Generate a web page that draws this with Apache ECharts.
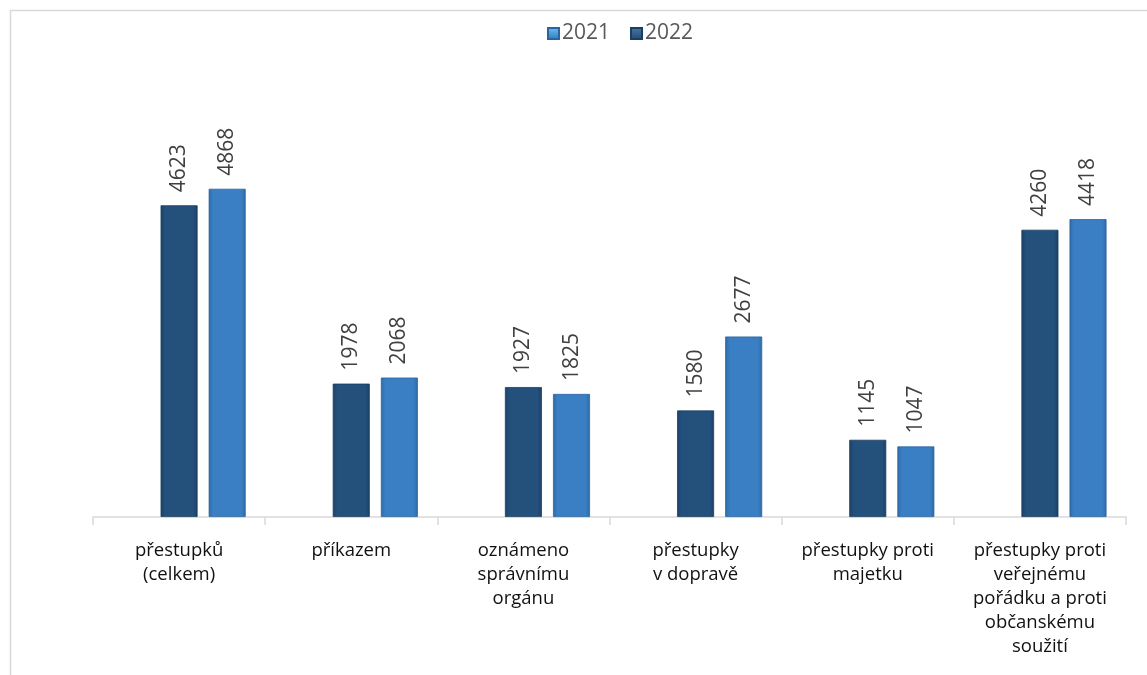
<!DOCTYPE html>
<html>
<head>
<meta charset="utf-8">
<script src="https://cdn.jsdelivr.net/npm/echarts@6/dist/echarts.min.js"></script>
<style>
html,body{margin:0;padding:0;background:#fff;}
#c{width:1147px;height:675px;}
</style>
</head>
<body>
<div id="c"></div>
<script>
const categories = [
  'přestupků\n(celkem)',
  'příkazem',
  'oznámeno\nsprávnímu\norgánu',
  'přestupky\nv dopravě',
  'přestupky proti\nmajetku',
  'přestupky proti\nveřejnému\npořádku a proti\nobčanskému\nsoužití'
];
const seriesNames = ['2021', '2022'];
const values2022 = [4623, 1978, 1927, 1580, 1145, 4260];
const values2021 = [4868, 2068, 1825, 2677, 1047, 4418];

const darkGrad = {type:'linear',x:0,y:0,x2:1,y2:0,colorStops:[
  {offset:0,color:'#1b4168'},{offset:0.12,color:'#24507c'},{offset:0.88,color:'#24507c'},{offset:1,color:'#1b4168'}]};
const lightGrad = {type:'linear',x:0,y:0,x2:1,y2:0,colorStops:[
  {offset:0,color:'#2f6aa6'},{offset:0.12,color:'#3a7fc3'},{offset:0.88,color:'#3a7fc3'},{offset:1,color:'#2f6aa6'}]};
const darkIcon = {type:'linear',x:0,y:0,x2:0,y2:1,colorStops:[{offset:0,color:'#4a78a8'},{offset:1,color:'#1f4a74'}]};
const lightIcon = {type:'linear',x:0,y:0,x2:0,y2:1,colorStops:[{offset:0,color:'#6cc0f0'},{offset:1,color:'#2f78c0'}]};

const labelCfg = {
  show:true, position:'top', rotate:90, align:'left', verticalAlign:'middle',
  distance:13, fontSize:21, color:'#404040', fontFamily:'Open Sans'
};

const chart = echarts.init(document.getElementById('c'), null, {renderer:'canvas'});
chart.setOption({
  animation:false,
  backgroundColor:'#fff',
  graphic:[{type:'rect', shape:{x:10.5,y:10.5,width:1200,height:700}, style:{fill:'none',stroke:'#d9d9d9',lineWidth:1.5}, silent:true, z:-1}],
  legend:{
    data:[{name:'2021',itemStyle:{color:lightIcon}},{name:'2022',itemStyle:{color:darkIcon}}],
    top:18, left:542, itemWidth:11, itemHeight:11, itemGap:20,
    icon:'rect', itemGap:20,
    textStyle:{fontSize:21, color:'#595959', fontFamily:'Open Sans', padding:[0,0,0,-2]}
  },
  grid:{left:93, right:21, top:45, bottom:158, containLabel:false},
  xAxis:{
    type:'category', data:categories,
    axisLine:{lineStyle:{color:'#d9d9d9', width:1.5}},
    axisTick:{show:true, length:8, lineStyle:{color:'#d9d9d9', width:1.5}},
    axisLabel:{fontSize:18.5, color:'#111', fontFamily:'Open Sans', lineHeight:24, margin:22, interval:0}
  },
  yAxis:{type:'value', min:0, max:7000, show:false, splitLine:{show:false}},
  series:[
    {name:'_pad', type:'bar', data:categories.map(()=>null), barWidth:37, barGap:'30%'},
    {name:'2022', type:'bar', data:values2022, barWidth:37, barGap:'30%',
      itemStyle:{color:darkGrad, borderColor:'#1a3d60', borderWidth:0.8}, label:labelCfg},
    {name:'2021', type:'bar', data:values2021, barWidth:37, barGap:'30%',
      itemStyle:{color:lightGrad, borderColor:'#2a64a0', borderWidth:0.8}, label:labelCfg}
  ]
});
</script>
</body>
</html>
